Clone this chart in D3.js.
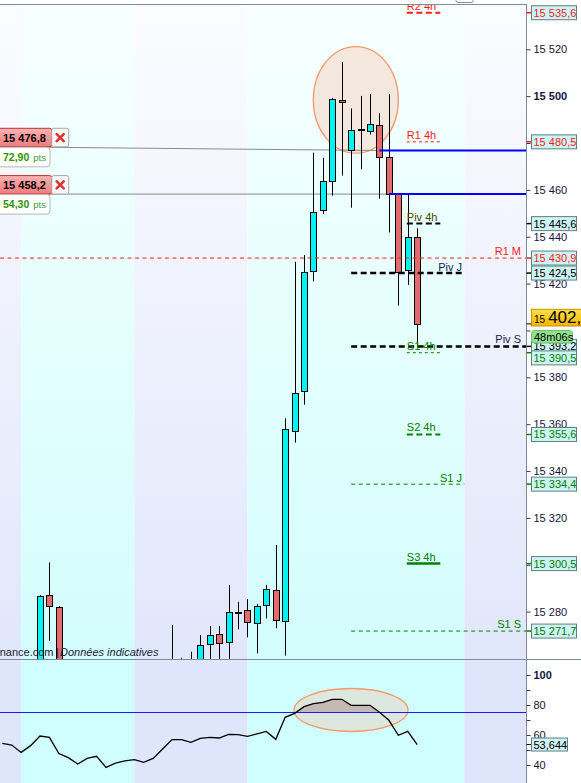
<!DOCTYPE html>
<html><head><meta charset="utf-8">
<script src="https://cdn.jsdelivr.net/npm/d3@7"></script>
<style>
html,body{margin:0;padding:0;background:#fff;}
svg{display:block;font-family:"Liberation Sans",Arial,sans-serif;}
</style></head><body>
<svg id="c" width="581" height="783"></svg>
<script>
// ---------------- DATA ----------------
const candleSlots = [0,1,2,3,4,5,6,7,8,9,10,11,12,13,14,15,16,17,18,19,20,21,22,23,24,25,26,27,28,29,30,31,32,33,34,35,36,37,38,39,40,41,42,43,44];
const opens  = [null,null,null,null,15255,15287.1,15282.1,null,null,null,null,null,null,null,null,null,null,null,
  15255,15255,15255,15255,15266.1,15270.4,15267.2,15279.6,15280.7,15275.0,15282.7,15289.2,15275.9,15357.1,15374.0,15425.5,15451.3,15463.7,15498.4,15476.9,15485.4,15485.0,15487.6,15473.9,15458.2,15425.7,15439.8];
const highs  = [null,null,null,null,15287.1,15301.0,15282.3,null,null,null,null,null,null,null,null,null,null,null,
  15274.3,15260.3,15262.9,15270.0,15273.9,15273.9,15291.4,15284.2,15285.4,15283.3,15291.4,15308.4,15362.5,15429.3,15432.2,15475.9,15473.7,15499.3,15514.6,15494.8,15500.1,15500.9,15492.7,15500.9,15458.4,15457.8,15443.6];
const lows   = [null,null,null,null,15250,15267.6,15250,null,null,null,null,null,null,null,null,null,null,null,
  15250,15250,15250,15250,15255,15255,15255,15272.5,15269.0,15262.2,15277.1,15272.9,15261.2,15352.1,15368.3,15421.0,15449.7,15457.5,15466.1,15452.4,15468.8,15483.6,15456.2,15441.8,15410.6,15419.4,15393.1];
const closes = [null,null,null,null,15286.7,15282.4,15254,null,null,null,null,null,null,null,null,null,null,null,
  15256,15256,15256,15265.8,15270.0,15266.5,15279.7,15279.5,15275.7,15282.4,15289.7,15276.3,15357.8,15373.2,15424.8,15450.4,15463.8,15498.7,15497.4,15485.6,15485.4,15488.0,15473.9,15458.2,15425.1,15439.8,15402.8];
const rsiValues = [54.4,53.3,48.4,52.9,59.3,58.4,47.6,44.9,40.7,44.4,45.8,38.4,41.3,42.7,43.6,41.8,44.4,50.7,56.9,56.9,55.1,57.8,58.4,58.0,60.4,60.2,59.1,60.7,62.4,57.1,71.8,74.4,78.9,80.9,81.8,83.8,83.8,79.8,79.8,79.8,75.1,69.8,59.8,62.4,53.644];
const rsiLevel = 75;
const sessionBreaks = [2, 14, 26, 49];

const levelNames   = ["R2 4h","R1 4h","Piv 4h","R1 M","Piv J","Piv S","S1 4h","S2 4h","S1 J","S3 4h","S1 S"];
const levelValues  = [15535.6,15480.5,15445.6,15430.9,15424.5,15393.2,15390.5,15355.6,15334.4,15300.5,15271.7];
const levelPeriods = ["4h","4h","4h","M","J","S","4h","4h","J","4h","S"];

const orderPrices = [15476.8, 15458.2];
const orderPts    = ["72,90", "54,30"];
const orderStart  = [40, 41];

const priceTicks = [15280,15300,15320,15340,15360,15380,15400,15420,15440,15460,15480,15500,15520];
const rsiTicks = [40,50,60,70,80,90,100];
const rsiLabels = [40,60,80,100];
const timerText = "48m06s";
const sourceText = "finance.com";
const noteText = "Données indicatives";

// ---------------- SETUP ----------------
const svg = d3.select("#c");
const plotR = 526, mainTop = 4, mainBot = 659, rsiBot = 783;
const x = d3.scaleLinear().domain([0,44]).range([2.3, 417.2]);
const y = d3.scaleLinear().domain([15259.78, 15539.33]).range([mainBot, mainTop]);
const yR = d3.scaleLinear().domain([40,100]).range([765,675]);
const loc = d3.formatLocale({decimal:",", thousands:" ", grouping:[3], currency:["",""]});
const fmt0 = loc.format(",.0f"), fmt1 = loc.format(",.1f"), fmt3 = loc.format(".3f");

const defs = svg.append("defs");
function grad(id, c0, c1){
  const g = defs.append("linearGradient").attr("id",id).attr("gradientUnits","userSpaceOnUse")
    .attr("x1",0).attr("y1",mainTop).attr("x2",0).attr("y2",mainBot);
  g.append("stop").attr("offset",0).attr("stop-color",c0);
  g.append("stop").attr("offset",1).attr("stop-color",c1);
}
grad("gLav","#fbfcff","#e1e7fb");
grad("gCyan","#f7ffff","#d3fdfd");
const pg = defs.append("linearGradient").attr("id","gPink").attr("x1",0).attr("y1",0).attr("x2",0).attr("y2",1);
pg.append("stop").attr("offset",0).attr("stop-color","#fbb4b4");
pg.append("stop").attr("offset",1).attr("stop-color","#f07a7a");
const yg = defs.append("linearGradient").attr("id","gGold").attr("x1",0).attr("y1",0).attr("x2",0).attr("y2",1);
yg.append("stop").attr("offset",0).attr("stop-color","#ffe04a");
yg.append("stop").attr("offset",1).attr("stop-color","#f5b400");
defs.append("clipPath").attr("id","clipMain").append("rect").attr("x",0).attr("y",mainTop+0.5).attr("width",plotR).attr("height",mainBot-mainTop);
defs.append("clipPath").attr("id","clipRsi").append("rect").attr("x",0).attr("y",mainBot).attr("width",plotR).attr("height",rsiBot-mainBot);
defs.append("clipPath").attr("id","clipOver").append("rect").attr("x",0).attr("y",mainBot).attr("width",plotR).attr("height",yR(rsiLevel)-mainBot);

// ---------------- BACKGROUND BANDS ----------------
const edges = [0, ...sessionBreaks.map(b=>x(b)), plotR];
for(let k=0;k<edges.length-1;k++){
  svg.append("rect").attr("x",edges[k]).attr("y",mainTop).attr("width",edges[k+1]-edges[k]).attr("height",mainBot-mainTop)
    .attr("fill", k%2===0 ? "url(#gLav)" : "url(#gCyan)");
  svg.append("rect").attr("x",edges[k]).attr("y",mainBot).attr("width",edges[k+1]-edges[k]).attr("height",rsiBot-mainBot)
    .attr("fill", k%2===0 ? "#dfe6fb" : "#d0fefe");
}

// ---------------- MAIN PANEL ----------------
const main = svg.append("g").attr("clip-path","url(#clipMain)");
main.append("ellipse").attr("cx",x(37.49)).attr("cy",y(15498.4))
  .attr("rx",x(37.49+4.51)-x(37.49)).attr("ry",y(15498.4-22.75)-y(15498.4))
  .attr("fill","rgba(245,190,160,0.35)").attr("stroke","#f59a6a").attr("stroke-width",1.3);

orderPrices.forEach((p,k)=>{
  const tilt = k===0 ? -3.7 : 0;
  main.append("line").attr("x1",0).attr("x2",x(orderStart[k])).attr("y1",y(p)+tilt).attr("y2",y(p))
    .attr("stroke","#8a8a8a").attr("stroke-width",1);
});

const candles = candleSlots.map((s,i)=>({s,o:opens[i],h:highs[i],l:lows[i],c:closes[i]})).filter(d=>d.o!=null);
main.selectAll("line.wick").data(candles).join("line").attr("class","wick")
  .attr("x1",d=>Math.round(x(d.s))+0.5).attr("x2",d=>Math.round(x(d.s))+0.5)
  .attr("y1",d=>y(d.h)).attr("y2",d=>y(d.l)).attr("stroke","#000").attr("stroke-width",1);
main.selectAll("rect.body").data(candles).join("rect").attr("class","body")
  .each(function(d){
    const r = Math.round(x(d.s)), sel = d3.select(this);
    if(Math.abs(d.o-d.c)<0.15){
      sel.attr("x",r-3).attr("width",7).attr("y",Math.round(y(d.o))-1).attr("height",2).attr("fill","#000");
    } else {
      const t = Math.round(y(Math.max(d.o,d.c))), b = Math.round(y(Math.min(d.o,d.c)));
      sel.attr("x",r-2.5).attr("width",6).attr("y",t+0.5).attr("height",Math.max(1,b-t))
        .attr("fill", d.c>d.o ? "#05f2f2" : "#e36b6b").attr("stroke","#000").attr("stroke-width",1);
    }
  });

const levels = levelNames.map((n,i)=>({n, v:levelValues[i], p:levelPeriods[i]}));
function lvlColor(n){ return n.startsWith("R") ? "#ff1a1a" : n.startsWith("Piv") ? "#000" : "#008000"; }
function lvlTextColor(d){ if(d.n.startsWith("Piv")) return d.p==="4h" ? "#4d4000" : "#1a1a50"; return lvlColor(d.n); }
function lvlStyle(d){
  if(/^S3/.test(d.n)) return {w:2.5, dash:null};
  if(/^(R2|S2)/.test(d.n) || (d.n.startsWith("Piv") && d.p==="4h")) return {w:2, dash:"6,3.5"};
  if(d.n.startsWith("Piv")) return {w:2.5, dash:"6,3.5"};
  if(d.p==="4h") return {w:1, dash:"3,3"};
  return {w:1, dash:"4,3.5"};
}
function lvlExtent(d){
  if(d.p==="4h") return [x(42.9), x(46.45)];
  if(d.p==="J") return [x(37), x(49)];
  if(d.p==="S") return [x(37), plotR];
  return [0, plotR];
}
const lv = main.append("g");
levels.forEach(d=>{
  const st = lvlStyle(d), ex = lvlExtent(d), ly = y(d.v);
  lv.append("line").attr("x1",ex[0]).attr("x2",ex[1]).attr("y1",ly).attr("y2",ly)
    .attr("stroke",lvlColor(d.n)).attr("stroke-width",st.w).attr("stroke-dasharray",st.dash);
  const t = lv.append("text").text(d.n).attr("font-size",11).attr("fill",lvlTextColor(d));
  if(d.p==="4h") t.attr("x",ex[0]).attr("y",ly-3);
  else if(d.p==="J") t.attr("x",x(48.75)).attr("y",ly-2.5).attr("text-anchor","end");
  else t.attr("x",521).attr("y",ly-3).attr("text-anchor","end");
});

orderPrices.forEach((p,k)=>{
  main.append("line").attr("x1",x(orderStart[k])).attr("x2",plotR).attr("y1",y(p)).attr("y2",y(p))
    .attr("stroke","#0000ff").attr("stroke-width",2);
});

orderPrices.forEach((p,k)=>{
  const a = y(p) + (k===0 ? -3.7 : 0);
  const g = svg.append("g");
  g.append("rect").attr("x",-4).attr("y",a-18.5).attr("width",55.7).attr("height",18.5).attr("rx",2)
    .attr("fill","url(#gPink)").attr("stroke","#c03030");
  g.append("text").attr("x",3).attr("y",a-5).attr("font-size",11).attr("font-weight","bold").attr("fill","#000").text(fmt1(p));
  g.append("rect").attr("x",51.7).attr("y",a-18.5).attr("width",17).attr("height",18.5).attr("rx",2)
    .attr("fill","#f6f6f6").attr("stroke","#a8a8a8");
  const cx = 60.2, cy = a-9.2;
  g.append("path").attr("d",`M${cx-3.5},${cy-3.5}L${cx+3.5},${cy+3.5}M${cx+3.5},${cy-3.5}L${cx-3.5},${cy+3.5}`)
    .attr("stroke","#dd3333").attr("stroke-width",2.6).attr("stroke-linecap","round");
  g.append("rect").attr("x",-4).attr("y",a+0.5).attr("width",54).attr("height",19.5).attr("rx",3)
    .attr("fill","#fff").attr("stroke","#b8b8b8");
  const t = g.append("text").attr("x",3).attr("y",a+14).attr("fill","#2e9400");
  t.append("tspan").attr("font-size",10.5).attr("font-weight","bold").text(orderPts[k]);
  t.append("tspan").attr("font-size",9.5).attr("fill","#3a9a3a").attr("dx",4).text("pts");
});

svg.append("text").attr("x",53.5).attr("y",656).attr("text-anchor","end").attr("font-size",11).attr("fill","#1c1c3c").text(sourceText);
svg.append("text").attr("x",56).attr("y",656).attr("font-size",11).attr("fill","#1c1c3c").text("|");
svg.append("text").attr("x",60).attr("y",656).attr("font-size",11).attr("font-style","italic").attr("fill","#1c1c3c").text(noteText);

// ---------------- RSI PANEL ----------------
const rs = svg.append("g").attr("clip-path","url(#clipRsi)");
rs.append("ellipse").attr("cx",x(36.98)).attr("cy",yR(76.67))
  .attr("rx",x(36.98+6.04)-x(36.98)).attr("ry",yR(76.67-14.33)-yR(76.67))
  .attr("fill","rgba(245,190,160,0.35)").attr("stroke","#f59a6a").attr("stroke-width",1.3);
const area = d3.area().x((d,i)=>x(candleSlots[i])).y0(yR(rsiLevel)).y1(d=>yR(d));
rs.append("path").datum(rsiValues).attr("d",area).attr("fill","#c4b9b4").attr("clip-path","url(#clipOver)");
rs.append("line").attr("x1",0).attr("x2",plotR).attr("y1",yR(rsiLevel)).attr("y2",yR(rsiLevel)).attr("stroke","#1a1aff").attr("stroke-width",1);
const line = d3.line().x((d,i)=>x(candleSlots[i])).y(d=>yR(d));
rs.append("path").datum(rsiValues).attr("d",line).attr("fill","none").attr("stroke","#000").attr("stroke-width",1.3);

// ---------------- FRAME ----------------
svg.append("line").attr("x1",0).attr("x2",plotR+0.5).attr("y1",4.5).attr("y2",4.5).attr("stroke","#7d8d9a");
svg.append("line").attr("x1",0).attr("x2",581).attr("y1",mainBot+0.5).attr("y2",mainBot+0.5).attr("stroke","#7d8d9a");
svg.append("line").attr("x1",plotR+0.5).attr("x2",plotR+0.5).attr("y1",4).attr("y2",rsiBot).attr("stroke","#7d8d9a");
svg.append("rect").attr("x",456).attr("y",-4).attr("width",17).attr("height",6.5).attr("rx",2).attr("fill","#fff").attr("stroke","#8090a0");

// ---------------- PRICE LABEL POSITIONS ----------------
const sorted = levels.slice().sort((a,b)=>y(a.v)-y(b.v));
let prev = -100;
sorted.forEach(d=>{
  let ly = y(d.v);
  if(ly < prev + 11.5) ly = prev + 11.5;
  prev = ly; d.ly = ly;
});
const last = closes[closes.length-1], lyp = y(last);
const boxCenters = sorted.map(d=>d.ly).concat([lyp-6, lyp+12.8]);
const hiddenTick = v => boxCenters.some(c=>Math.abs(y(v)-c)<8.5);

// ---------------- PRICE AXIS ----------------
const ax = svg.append("g").attr("transform",`translate(${plotR+0.5},0)`)
  .call(d3.axisRight(y).tickValues(priceTicks).tickFormat(fmt0).tickSize(4).tickPadding(3));
ax.select(".domain").remove();
ax.selectAll("line").attr("stroke","#3a3a4a");
ax.selectAll("text").attr("font-size",11).attr("fill","#14143c").attr("font-family",null)
  .attr("font-weight",d=>d%100===0?"bold":null);
ax.selectAll(".tick").filter(d=>hiddenTick(d)).select("text").remove();

sorted.forEach(d=>{
  svg.append("line").attr("x1",plotR+0.5).attr("x2",plotR+5).attr("y1",y(d.v)).attr("y2",y(d.v)).attr("stroke",lvlColor(d.n)).attr("stroke-width",1.5);
  svg.append("rect").attr("x",531.5).attr("y",d.ly-7).attr("width",45).attr("height",14)
    .attr("fill","#cdf3f3").attr("stroke","#5f7f86");
  svg.append("text").attr("x",533.5).attr("y",d.ly+4).attr("font-size",11)
    .attr("fill", d.n.startsWith("Piv") ? "#000" : lvlColor(d.n)).text(fmt1(d.v));
});

// current price
svg.append("line").attr("x1",plotR+0.5).attr("x2",plotR+5).attr("y1",lyp).attr("y2",lyp).attr("stroke","#000");
svg.append("rect").attr("x",531.5).attr("y",lyp-14.6).attr("width",60).attr("height",16.7)
  .attr("fill","url(#gGold)").attr("stroke","#c89000");
const ct = svg.append("text").attr("x",534).attr("y",lyp-0.6).attr("fill","#000");
const parts = fmt1(last).split(" ");
ct.append("tspan").attr("font-size",10).text(parts[0]);
ct.append("tspan").attr("font-size",17).attr("dx",3).text(parts[1]);
svg.append("rect").attr("x",531.5).attr("y",lyp+6.6).attr("width",41).attr("height",12.5).attr("rx",3)
  .attr("fill","#90e090").attr("stroke","#70c070");
svg.append("text").attr("x",534).attr("y",lyp+16.8).attr("font-size",11).attr("fill","#000").text(timerText);

// ---------------- RSI AXIS ----------------
const ar = svg.append("g").attr("transform",`translate(${plotR+0.5},0)`)
  .call(d3.axisRight(yR).tickValues(rsiTicks).tickFormat(d=>rsiLabels.includes(d)?d:"").tickSize(4).tickPadding(3));
ar.select(".domain").remove();
ar.selectAll("line").attr("stroke","#3a3a4a");
ar.selectAll("text").attr("font-size",11).attr("fill","#14143c").attr("font-family",null)
  .attr("font-weight",d=>d===100?"bold":null);
const rl = rsiValues[rsiValues.length-1];
svg.append("line").attr("x1",plotR+0.5).attr("x2",plotR+5).attr("y1",yR(rl)).attr("y2",yR(rl)).attr("stroke","#000");
svg.append("rect").attr("x",531.5).attr("y",yR(rl)-6.5).attr("width",36).attr("height",13)
  .attr("fill","#cdf3f3").attr("stroke","#5f7f86");
svg.append("text").attr("x",533.5).attr("y",yR(rl)+4).attr("font-size",11).attr("fill","#000").text(fmt3(rl));
</script>
</body></html>
